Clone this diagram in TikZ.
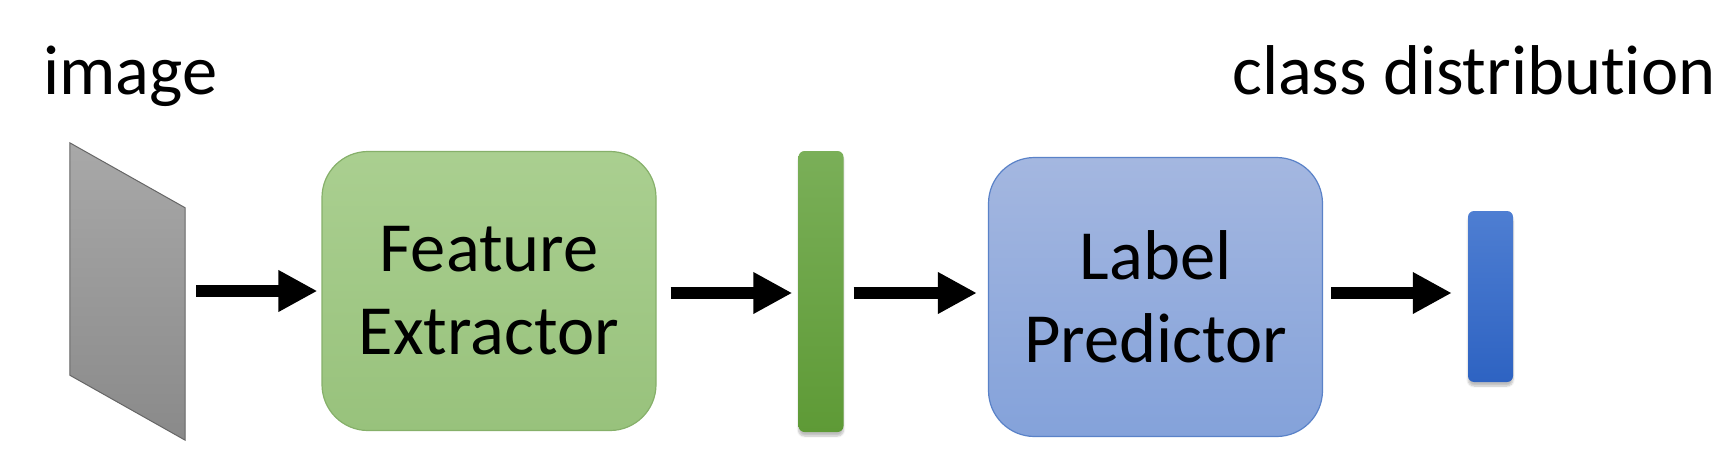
\documentclass[tikz,border=0pt]{standalone}
\usepackage{fontspec}
\setmainfont{Carlito}[Ligatures={NoCommon}]
\usetikzlibrary{arrows.meta,shadows.blur}
\definecolor{gTop}{HTML}{AACF90}
\definecolor{gBot}{HTML}{98C27C}
\definecolor{gLine}{HTML}{86B06A}
\definecolor{bTop}{HTML}{A4B7E0}
\definecolor{bBot}{HTML}{84A2DA}
\definecolor{bLine}{HTML}{5A82C8}
\definecolor{gbTop}{HTML}{7AAF58}
\definecolor{gbBot}{HTML}{5E9A36}
\definecolor{bbTop}{HTML}{4E7ED2}
\definecolor{bbBot}{HTML}{2E63C2}
\tikzset{
  bigbox/.style={draw, line width=1.2pt, rounded corners=46pt, minimum width=334pt,
    minimum height=279pt, inner sep=0pt, align=center, font=\fontsize{70.5}{83}\selectfont},
  barbox/.style={rounded corners=6pt, minimum width=45pt, inner sep=0pt,
    blur shadow={shadow xshift=0pt, shadow yshift=-4pt, shadow blur steps=6, shadow opacity=25}},
  flow/.style={line width=12pt, -{Triangle[length=39pt,width=39pt]}},
  lbl/.style={font=\fontsize{70.5}{83}\selectfont, inner sep=0pt, anchor=base west}
}
\begin{document}
\begin{tikzpicture}[x=1pt,y=-1pt]
\useasboundingbox (0,0) rectangle (1732,471);
% image plane
\node[inner sep=0pt, minimum width=115pt, minimum height=297pt] (img) at (127.5,291.5) {};
\shade[top color=gray!68, bottom color=gray!92, draw=black!60, line width=1pt]
  (img.north west) -- ([yshift=-65pt]img.north east) -- (img.south east)
  -- ([yshift=65pt]img.south west) -- cycle;
\node[lbl] (imglbl) at (43,94) {image};
% boxes
\node[bigbox, draw=gLine, top color=gTop, bottom color=gBot] (fe) at (489,291) {Feature\\Extractor};
\node[barbox, minimum height=281pt, top color=gbTop, bottom color=gbBot] (feat) at (821,291.5) {};
\node[bigbox, draw=bLine, top color=bTop, bottom color=bBot] (lp) at (1155.5,297) {Label\\Predictor};
\node[barbox, minimum height=171pt, top color=bbTop, bottom color=bbBot] (cls) at (1490.5,296.5) {};
\node[lbl] (clslbl) at (1232,94) {class distribution};
% arrows
\draw[flow] ([xshift=11pt]img.east |- 0,291) coordinate (a1) -- ([xshift=-4pt]fe.west |- a1);
\draw[flow] ([xshift=14pt]fe.east |- 0,293) coordinate (a2) -- ([xshift=-6pt]feat.west |- a2);
\draw[flow] ([xshift=10pt]feat.east |- 0,293) coordinate (a3) -- ([xshift=-11pt]lp.west |- a3);
\draw[flow] ([xshift=8pt]lp.east |- 0,293) coordinate (a4) -- ([xshift=-16pt]cls.west |- a4);
\end{tikzpicture}
\end{document}
